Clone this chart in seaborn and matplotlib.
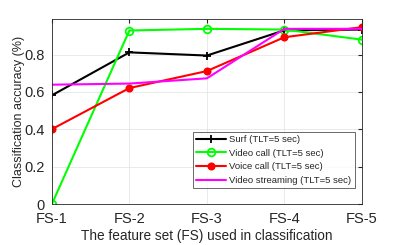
import matplotlib
matplotlib.use("Agg")
from matplotlib import pyplot as plt
import seaborn as sns
import pandas as pd

feature_sets = ["FS-1", "FS-2", "FS-3", "FS-4", "FS-5"]
surf = [0.582, 0.812, 0.795, 0.930, 0.934]
video_call = [0.0, 0.929, 0.938, 0.934, 0.880]
voice_call = [0.401, 0.621, 0.712, 0.893, 0.947]
video_streaming = [0.639, 0.645, 0.673, 0.938, 0.938]

series = {
    "Surf (TLT=5 sec)": (surf, "black", "+", "full", 6),
    "Video call (TLT=5 sec)": (video_call, "#00ff00", "o", "none", 5.5),
    "Voice call (TLT=5 sec)": (voice_call, "red", "o", "full", 4.5),
    "Video streaming (TLT=5 sec)": (video_streaming, "magenta", None, "full", 0),
}

rows = []
for name, (vals, _, _, _, _) in series.items():
    for i, v in enumerate(vals):
        rows.append({"fs": feature_sets[i], "x": i, "acc": v, "series": name})
df = pd.DataFrame(rows)

sns.set_style("white")
plt.rcParams["font.family"] = ["Liberation Sans", "DejaVu Sans"]

fig = plt.figure(figsize=(3.99, 2.45), dpi=100)
ax = fig.add_axes([0.130, 0.167, 0.777, 0.755])

for name, (vals, color, marker, fill, ms) in series.items():
    sub = df[df["series"] == name]
    sns.lineplot(data=sub, x="x", y="acc", ax=ax, color=color, lw=1.5,
                 marker=marker, markersize=ms,
                 fillstyle=fill, markeredgewidth=1.3, markeredgecolor=color,
                 label=name)

ax.set_xlim(0, 4)
ax.set_ylim(0, 0.99)
ax.set_xticks(range(5))
ax.set_xticklabels(feature_sets)
ax.set_yticks([0, 0.2, 0.4, 0.6, 0.8])
ax.set_yticklabels(["0", "0.2", "0.4", "0.6", "0.8"])
ax.grid(True, color="#e6e6e6", lw=0.6)
ax.tick_params(direction="in", length=3, labelsize=10.5, colors="#262626",
               top=True, right=True)
ax.tick_params(axis="x", pad=6)
ax.tick_params(axis="y", pad=5)
for s in ax.spines.values():
    s.set_color("#262626")
    s.set_linewidth(0.6)
    s.set_visible(True)
ax.set_xlabel("The feature set (FS) used in classification", fontsize=9.8,
              color="#262626", labelpad=2)
ax.set_ylabel("Classification accuracy (%)", fontsize=9, color="#262626")
ax.yaxis.set_label_coords(-0.088, 0.5)

leg = ax.legend(loc="lower right", bbox_to_anchor=(0.977, 0.085), fontsize=6.8,
                frameon=True, fancybox=False, handlelength=3.2, handletextpad=0.3,
                borderpad=0.35, labelspacing=0.5, borderaxespad=0)
leg.get_frame().set_edgecolor("#262626")
leg.get_frame().set_linewidth(0.6)

fig.savefig("out.png", dpi=100)
